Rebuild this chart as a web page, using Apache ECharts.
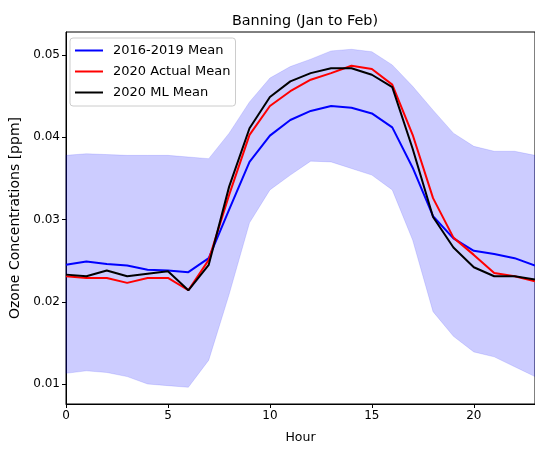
<!DOCTYPE html>
<html>
<head>
<meta charset="utf-8">
<script src="https://cdn.jsdelivr.net/npm/echarts@6/dist/echarts.min.js"></script>
<style>
html,body{margin:0;padding:0;background:#fff;}
#chart{width:535px;height:450px;}
</style>
</head>
<body>
<div id="chart"></div>
<script>
const hours = [0,1,2,3,4,5,6,7,8,9,10,11,12,13,14,15,16,17,18,19,20,21,22,23];
const mean2016_2019 = [0.0245,0.0249,0.0246,0.0244,0.0239,0.0238,0.0236,0.0253,0.0312,0.0370,0.0402,0.0421,0.0432,0.0438,0.0436,0.0429,0.0412,0.0363,0.0304,0.0277,0.0262,0.0258,0.0253,0.0244];
const actual2020 = [0.0231,0.0229,0.0229,0.0223,0.0229,0.0229,0.0214,0.0251,0.0330,0.0403,0.0438,0.0456,0.0470,0.0478,0.0487,0.0483,0.0464,0.0403,0.0326,0.0278,0.0257,0.0235,0.0231,0.0225];
const ml2020 = [0.0233,0.0231,0.0238,0.0231,0.0234,0.0237,0.0214,0.0245,0.0340,0.0411,0.0449,0.0468,0.0478,0.0484,0.0484,0.0476,0.0461,0.0386,0.0303,0.0266,0.0242,0.0231,0.0231,0.0227];
const bandUpper = [0.0378,0.0380,0.0379,0.0378,0.0378,0.0378,0.0376,0.0374,0.0405,0.0443,0.0472,0.0486,0.0495,0.0505,0.0507,0.0504,0.0488,0.0462,0.0433,0.0405,0.0389,0.0383,0.0383,0.0378];
const bandLower = [0.0113,0.0116,0.0114,0.0109,0.0100,0.0098,0.0096,0.0129,0.0209,0.0296,0.0336,0.0354,0.0371,0.0370,0.0362,0.0354,0.0336,0.0275,0.0188,0.0158,0.0139,0.0133,0.0121,0.0109];
const xTicks = [0,5,10,15,20];
const yTicks = [0.01,0.02,0.03,0.04,0.05];

const FONT = 'DejaVu Sans';
const chart = echarts.init(document.getElementById('chart'), null, {renderer:'canvas'});
const pairs = arr => hours.map((h,i)=>[h,arr[i]]);

chart.setOption({
  animation:false,
  backgroundColor:'#fff',
  title:{text:'Banning (Jan to Feb)', left:300, top:9, textAlign:'center',
    textStyle:{fontFamily:FONT,fontSize:14.4,fontWeight:'normal',color:'#000'}},
  grid:{left:64, top:32, width:471, height:372, show:true, borderColor:'#000', borderWidth:1, backgroundColor:'transparent'},
  legend:{
    orient:'vertical', left:70, top:38,
    icon:'rect',
    itemWidth:28, itemHeight:2, itemGap:6,
    padding:[5,5,6,5],
    borderColor:'#ccc', borderWidth:1, borderRadius:3,
    backgroundColor:'rgba(255,255,255,0.8)',
    textStyle:{fontFamily:FONT,fontSize:13,color:'#000',lineHeight:15,padding:[0,0,0,5]},
    data:['2016-2019 Mean','2020 Actual Mean','2020 ML Mean']
  },
  xAxis:{
    type:'value', min:0, max:23,
    name:'Hour', nameLocation:'middle', nameGap:27,
    nameTextStyle:{fontFamily:FONT,fontSize:12.5,color:'#000'},
    axisLine:{show:true,onZero:false,lineStyle:{color:'#000',width:1}},
    axisTick:{show:true,length:4,inside:false,customValues:xTicks,lineStyle:{color:'#000'}},
    axisLabel:{customValues:xTicks,fontFamily:FONT,fontSize:12,color:'#000',margin:6},
    splitLine:{show:false}
  },
  yAxis:{
    type:'value', min:0.00757, max:0.0528,
    name:'Ozone Concentrations [ppm]', nameLocation:'middle', nameGap:44,
    nameTextStyle:{fontFamily:FONT,fontSize:14,color:'#000'},
    axisLine:{show:true,onZero:false,lineStyle:{color:'#000',width:1}},
    axisTick:{show:true,length:4,inside:false,customValues:yTicks,lineStyle:{color:'#000'}},
    axisLabel:{customValues:yTicks,fontFamily:FONT,fontSize:12,color:'#000',margin:6,
      formatter:v=>v.toFixed(2)},
    splitLine:{show:false}
  },
  series:[
    {
      type:'custom', name:'band', silent:true, z:1,
      data:[[0,0]],
      renderItem:function(params, api){
        const pts = [];
        for (let i=0;i<hours.length;i++) pts.push(api.coord([hours[i], bandUpper[i]]));
        for (let i=hours.length-1;i>=0;i--) pts.push(api.coord([hours[i], bandLower[i]]));
        return {type:'polygon', shape:{points:pts},
          style:{fill:'rgba(0,0,255,0.2)', stroke:'rgba(0,0,255,0.12)', lineWidth:1}};
      }
    },
    {name:'2016-2019 Mean', type:'line', data:pairs(mean2016_2019), symbol:'none', showSymbol:false, z:3,
      lineStyle:{color:'#0000ff',width:2}, itemStyle:{color:'#0000ff'}},
    {name:'2020 Actual Mean', type:'line', data:pairs(actual2020), symbol:'none', showSymbol:false, z:4,
      lineStyle:{color:'#ff0000',width:2}, itemStyle:{color:'#ff0000'}},
    {name:'2020 ML Mean', type:'line', data:pairs(ml2020), symbol:'none', showSymbol:false, z:5,
      lineStyle:{color:'#000000',width:2}, itemStyle:{color:'#000000'}}
  ]
});
</script>
</body>
</html>
